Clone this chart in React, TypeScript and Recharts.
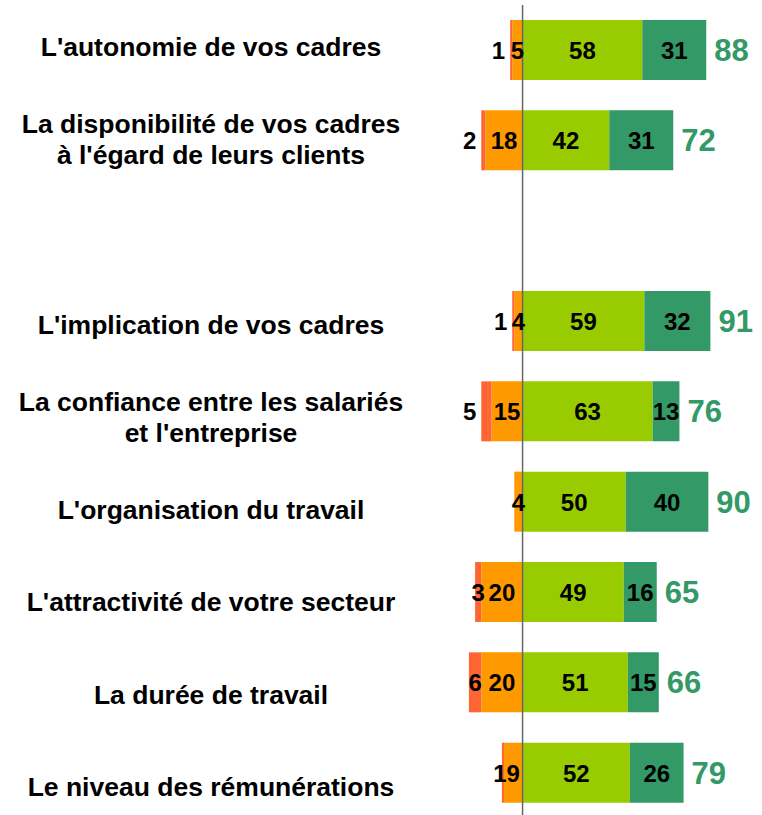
import { BarChart, Bar, XAxis, YAxis, ReferenceLine, LabelList } from "recharts";

const categories = [
  "L'autonomie de vos cadres",
  "La disponibilité de vos cadres\nà l'égard de leurs clients",
  "",
  "L'implication de vos cadres",
  "La confiance entre les salariés\net l'entreprise",
  "L'organisation du travail",
  "L'attractivité de votre secteur",
  "La durée de travail",
  "Le niveau des rémunérations",
];

// negative side (drawn to the left of zero)
const tresMauvais = [1, 2, null, 1, 5, 0, 3, 6, 1];
const plutotMauvais = [5, 18, null, 4, 15, 4, 20, 20, 9];
// positive side
const plutotBon = [58, 42, null, 59, 63, 50, 49, 51, 52];
const tresBon = [31, 31, null, 32, 13, 40, 16, 15, 26];
const totals = [88, 72, null, 91, 76, 90, 65, 66, 79];

const RED = "#FF6633";
const ORANGE = "#FF9900";
const LIGHT_GREEN = "#99CC00";
const DARK_GREEN = "#339966";

const data = categories.map((name, i) => ({
  name,
  tm: tresMauvais[i] == null ? null : -(tresMauvais[i] as number),
  pm: plutotMauvais[i] == null ? null : -(plutotMauvais[i] as number),
  pb: plutotBon[i],
  tb: tresBon[i],
  total: totals[i],
}));

const FONT = "'Liberation Sans', Arial, sans-serif";
const VAL_SIZE = 24;
const DIGIT_W = 0.556 * VAL_SIZE;

function box(props: any) {
  const x = Number(props.x);
  const w = Number(props.width);
  return { left: Math.min(x, x + w), w: Math.abs(w), cy: Number(props.y) + Number(props.height) / 2 };
}

function CenterLabel(props: any) {
  const { value } = props;
  if (value == null || value === 0) return null;
  const { left, w, cy } = box(props);
  return (
    <text x={left + w / 2} y={cy} dy={9} textAnchor="middle" fontFamily={FONT} fontWeight="bold" fontSize={VAL_SIZE} fill="#000">
      {Math.abs(value)}
    </text>
  );
}

// small red segment: centred if it fits, nudged against the orange label on a
// slight clash, otherwise pushed to the left of the bar
function RedLabel(props: any) {
  const row = props.value;
  if (row == null || typeof row !== "object") return null;
  const red = Math.abs(row.tm ?? 0);
  const orange = Math.abs(row.pm ?? 0);
  if (!red) return null;
  const { left, w, cy } = box(props);
  const pxPerUnit = w / red;
  const orangeW = orange * pxPerUnit;
  const orangeLabelLeft = left + w + orangeW / 2 - (String(orange).length * DIGIT_W) / 2;
  const half = (String(red).length * DIGIT_W) / 2;
  const center = left + w / 2;
  const clash = orange > 0 ? center + half - (orangeLabelLeft - 1) : -1;

  let x = center;
  let anchor: "middle" | "end" = "middle";
  if (clash > 0) {
    anchor = "end";
    x = clash > 2 && clash < 6 ? orangeLabelLeft : left - 5;
  }
  return (
    <text x={x} y={cy} dy={9} textAnchor={anchor} fontFamily={FONT} fontWeight="bold" fontSize={VAL_SIZE} fill="#000">
      {red}
    </text>
  );
}

function TotalLabel(props: any) {
  const { value } = props;
  if (value == null) return null;
  const { left, w, cy } = box(props);
  return (
    <text x={left + w + 8} y={cy} dy={11} textAnchor="start" fontFamily={FONT} fontWeight="bold" fontSize={31} fill={DARK_GREEN}>
      {value}
    </text>
  );
}

function CategoryTick(props: any) {
  const { x, y, payload, index } = props;
  const lines = String(payload.value).split("\n").filter((l) => l);
  if (!lines.length) return null;
  const lh = 31;
  const shift = index * 2.2 - 3;
  const start = y + shift - ((lines.length - 1) * lh) / 2;
  const cx = x - 221;
  return (
    <text x={cx} y={start} textAnchor="middle" fontFamily={FONT} fontWeight="bold" fontSize={26.5} fill="#000">
      {lines.map((l, i) => (
        <tspan key={i} x={cx} y={start + i * lh} dy={9}>
          {l}
        </tspan>
      ))}
    </text>
  );
}

export default function App() {
  return (
    <div style={{ position: "absolute", left: 0, top: 0, background: "#fff" }}>
      <BarChart
        width={762}
        height={815}
        data={data}
        layout="vertical"
        stackOffset="sign"
        margin={{ top: 5, right: 0, bottom: -3, left: 0 }}
      >
        <XAxis type="number" domain={[-40, 116]} hide allowDataOverflow />
        <YAxis
          type="category"
          dataKey="name"
          width={440}
          axisLine={false}
          tickLine={false}
          tick={<CategoryTick />}
          interval={0}
        />
        <Bar dataKey="pm" stackId="s" fill={ORANGE} barSize={60} isAnimationActive={false}>
          <LabelList dataKey="pm" content={<CenterLabel />} />
        </Bar>
        <Bar dataKey="tm" stackId="s" fill={RED} barSize={60} isAnimationActive={false}>
          <LabelList valueAccessor={(entry: any) => entry.payload} content={<RedLabel />} />
        </Bar>
        <Bar dataKey="pb" stackId="s" fill={LIGHT_GREEN} barSize={60} isAnimationActive={false}>
          <LabelList dataKey="pb" content={<CenterLabel />} />
        </Bar>
        <Bar dataKey="tb" stackId="s" fill={DARK_GREEN} barSize={60} isAnimationActive={false}>
          <LabelList dataKey="tb" content={<CenterLabel />} />
          <LabelList dataKey="total" content={<TotalLabel />} />
        </Bar>
        <ReferenceLine x={0} stroke="#666" strokeWidth={1.5} />
      </BarChart>
    </div>
  );
}
